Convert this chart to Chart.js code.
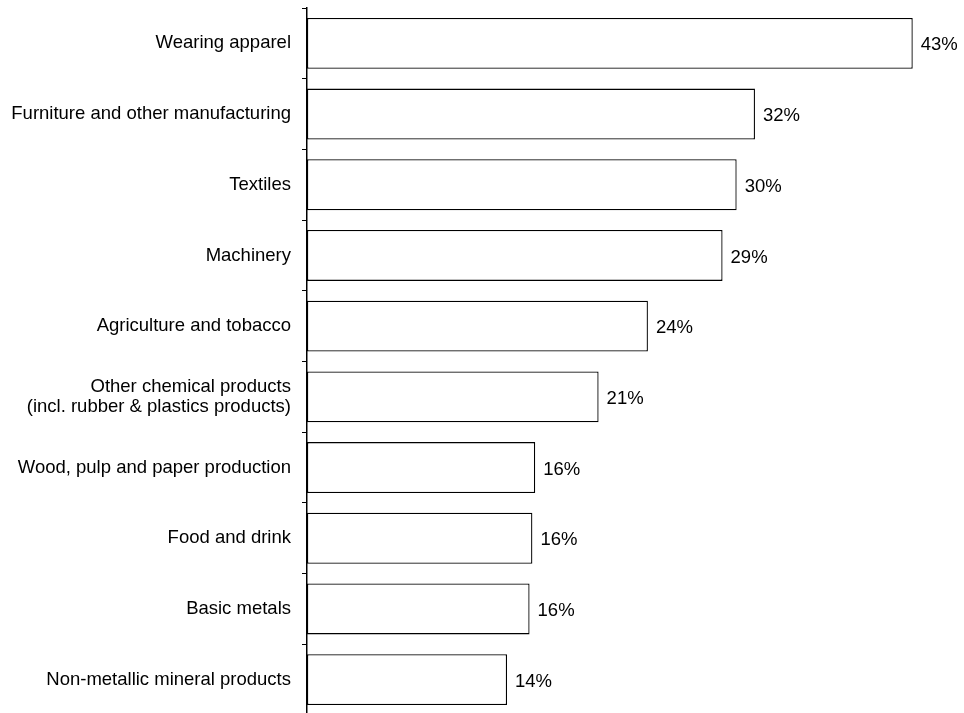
<!DOCTYPE html>
<html>
<head>
<meta charset="utf-8">
<script src="https://cdn.jsdelivr.net/npm/chart.js@4/dist/chart.umd.min.js"></script>
<style>
  html, body { margin: 0; padding: 0; background: #fff; overflow: hidden; }
  #wrap { position: relative; width: 964px; height: 716px; }
</style>
</head>
<body>
<div id="wrap"><canvas id="grafico"></canvas></div>
<script>
// Categorias (de cima para baixo)
const categorias = [
    'Wearing apparel',
    'Furniture and other manufacturing',
    'Textiles',
    'Machinery',
    'Agriculture and tobacco',
    ['Other chemical products', '(incl. rubber & plastics products)'],
    'Wood, pulp and paper production',
    'Food and drink',
    'Basic metals',
    'Non-metallic mineral products'
];

const valores = [43, 31.8, 30.5, 29.5, 24.2, 20.7, 16.2, 16.0, 15.8, 14.2];

// Rótulos impressos ao lado das barras
const rotulos = ['43%', '32%', '30%', '29%', '24%', '21%', '16%', '16%', '16%', '14%'];

const fonte = 'Liberation Sans, Arial, Helvetica, sans-serif';

// Plugin simples para escrever o valor depois da barra
const rotuloValor = {
    id: 'rotuloValor',
    afterDatasetsDraw(chart) {
        const ctx = chart.ctx;
        const meta = chart.getDatasetMeta(0);
        ctx.save();
        ctx.fillStyle = '#000';
        ctx.font = '18.5px ' + fonte;
        ctx.textAlign = 'left';
        ctx.textBaseline = 'middle';
        meta.data.forEach((bar, i) => {
            ctx.fillText(rotulos[i], bar.x + 8, bar.y + 2);
        });
        ctx.restore();
    }
};

new Chart(document.getElementById('grafico'), {
    type: 'bar',
    data: {
        labels: categorias,
        datasets: [{
            data: valores,
            backgroundColor: '#fff',
            borderColor: '#000',
            borderWidth: 1.3,
            borderSkipped: false,
            barPercentage: 0.72,
            categoryPercentage: 1
        }]
    },
    options: {
        indexAxis: 'y',
        responsive: true,
        maintainAspectRatio: false,
        animation: false,
        layout: { padding: { top: 8, right: 9, bottom: 1, left: 0 } },
        plugins: {
            legend: { display: false },
            tooltip: { enabled: false }
        },
        scales: {
            x: {
                display: false,
                min: 0,
                max: 46
            },
            y: {
                afterFit(scale) {
                    scale.width = 307;
                    // sem folga extra em cima/baixo por causa dos rótulos
                    scale.paddingTop = 0;
                    scale.paddingBottom = 0;
                },
                border: { display: true, color: '#000', width: 1.5 },
                grid: {
                    offset: true,
                    drawOnChartArea: false,
                    drawTicks: true,
                    tickLength: 5,
                    color: '#000',
                    lineWidth: 1
                },
                ticks: {
                    color: '#000',
                    padding: 11,
                    font: { family: fonte, size: 18.5, lineHeight: 1.1 }
                }
            }
        }
    },
    plugins: [rotuloValor]
});
</script>
</body>
</html>
